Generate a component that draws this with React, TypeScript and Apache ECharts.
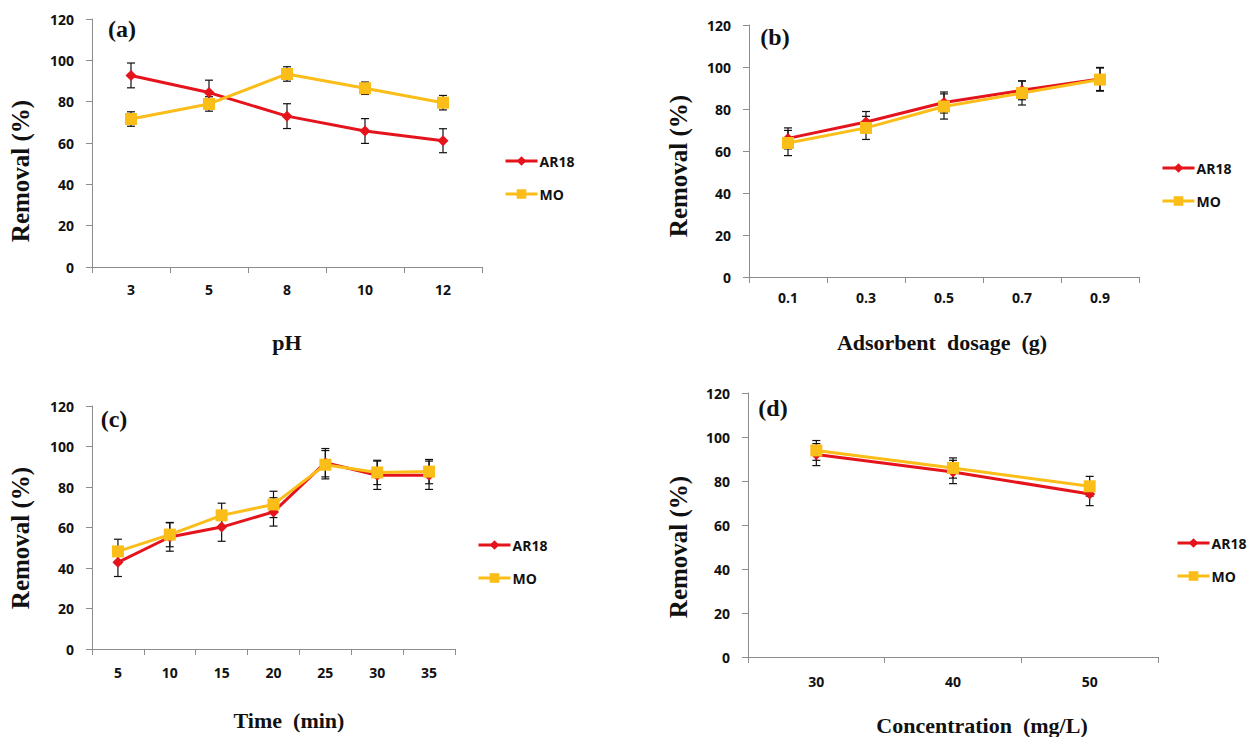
import React, { useEffect, useRef } from "react";
import * as echarts from "echarts";

// ---- data ----
const phCats = ["3", "5", "8", "10", "12"];
const phAR18 = [92.7, 84.4, 73.0, 65.8, 61.1];
const phAR18Err = [6, 6, 6, 6, 5.8];
const phMO = [71.6, 78.9, 93.4, 86.5, 79.5];
const phMOErr = [3.5, 3.5, 3.5, 3, 3.5];

const dosageCats = ["0.1", "0.3", "0.5", "0.7", "0.9"];
const dosAR18 = [66.0, 73.8, 83.1, 88.9, 94.3];
const dosAR18Err = [5, 5, 5, 4.5, 5.5];
const dosMO = [63.8, 71.0, 81.2, 87.6, 94.0];
const dosMOErr = [6, 5.5, 6, 5.7, 5.5];

const timeCats = ["5", "10", "15", "20", "25", "30", "35"];
const timeAR18 = [42.8, 55.3, 60.2, 67.7, 92.0, 85.8, 85.8];
const timeAR18Err = [7, 7, 7, 7, 7, 7, 7];
const timeMO = [48.2, 56.5, 66.0, 71.4, 91.0, 87.2, 87.6];
const timeMOErr = [6, 6, 6, 6.5, 7, 6, 6];

const concCats = ["30", "40", "50"];
const concAR18 = [92.0, 84.1, 74.1];
const concAR18Err = [5, 5.3, 5.3];
const concMO = [93.9, 85.9, 77.6];
const concMOErr = [4.5, 4.6, 4.5];

const yTicks = { min: 0, max: 120, interval: 20 };

const RED = "#e5141c";
const GOLD = "#fbbd18";
const AXIS = "#8c8c8c";
const SANS = '"Open Sans", "Liberation Sans", sans-serif';
const SERIF = '"Liberation Serif", "DejaVu Serif", serif';

const panels = [
  { cats: phCats, ar: phAR18, arE: phAR18Err, mo: phMO, moE: phMOErr,
    grid: { left: 92, top: 19, width: 390, height: 248 }, labelMargin: 15,
    legend: { left: 504, top: 154 }, letter: "(a)", letterPos: [122, 29],
    yTitlePos: [20, 171], xTitle: "pH", xTitlePos: [287, 342] },
  { cats: dosageCats, ar: dosAR18, arE: dosAR18Err, mo: dosMO, moE: dosMOErr,
    grid: { left: 749, top: 25, width: 390, height: 252 }, labelMargin: 13,
    legend: { left: 1161, top: 161 }, letter: "(b)", letterPos: [775, 37],
    yTitlePos: [678, 166], xTitle: "Adsorbent  dosage  (g)", xTitlePos: [942, 342] },
  { cats: timeCats, ar: timeAR18, arE: timeAR18Err, mo: timeMO, moE: timeMOErr,
    grid: { left: 92, top: 406, width: 363, height: 243 }, labelMargin: 16,
    legend: { left: 477, top: 538 }, letter: "(c)", letterPos: [114, 419],
    yTitlePos: [20, 538], xTitle: "Time  (min)", xTitlePos: [289, 720] },
  { cats: concCats, ar: concAR18, arE: concAR18Err, mo: concMO, moE: concMOErr,
    grid: { left: 748, top: 393, width: 410, height: 264 }, labelMargin: 17,
    legend: { left: 1176, top: 536 }, letter: "(d)", letterPos: [773, 408],
    yTitlePos: [678, 547], xTitle: "Concentration  (mg/L)", xTitlePos: [982, 725] },
];

function errorBarRender(params: any, api: any) {
  const x = api.value(0);
  const lo = api.coord([x, api.value(1)]);
  const hi = api.coord([x, api.value(2)]);
  const w = 4;
  const style = { stroke: "#111", lineWidth: 1.2 };
  return {
    type: "group",
    children: [
      { type: "line", shape: { x1: lo[0], y1: lo[1], x2: hi[0], y2: hi[1] }, style },
      { type: "line", shape: { x1: lo[0] - w, y1: lo[1], x2: lo[0] + w, y2: lo[1] }, style },
      { type: "line", shape: { x1: hi[0] - w, y1: hi[1], x2: hi[0] + w, y2: hi[1] }, style },
    ],
  };
}

function buildOption() {
  const grid: any[] = [];
  const xAxis: any[] = [];
  const yAxis: any[] = [];
  const series: any[] = [];
  const legend: any[] = [];
  const graphic: any[] = [];

  panels.forEach((p, i) => {
    grid.push({ ...p.grid, containLabel: false });
    xAxis.push({
      type: "category",
      gridIndex: i,
      data: p.cats,
      boundaryGap: true,
      axisLine: { lineStyle: { color: AXIS, width: 1 } },
      axisTick: { show: true, length: 6, inside: false, lineStyle: { color: AXIS } },
      axisLabel: { color: "#111", fontWeight: "bold", fontSize: 14, fontFamily: SANS, margin: p.labelMargin },
      splitLine: { show: false },
    });
    yAxis.push({
      type: "value",
      gridIndex: i,
      ...yTicks,
      axisLine: { show: true, lineStyle: { color: AXIS, width: 1 } },
      axisTick: { show: true, length: 6, lineStyle: { color: AXIS } },
      axisLabel: { color: "#111", fontWeight: "bold", fontSize: 14, fontFamily: SANS, margin: 18 },
      splitLine: { show: false },
    });

    const errData = (vals: number[], errs: number[]) =>
      vals.map((v, k) => [k, v - errs[k], v + errs[k]]);

    series.push({
      type: "custom",
      xAxisIndex: i,
      yAxisIndex: i,
      renderItem: errorBarRender,
      data: errData(p.ar, p.arE),
      z: 1,
      silent: true,
    });
    series.push({
      type: "custom",
      xAxisIndex: i,
      yAxisIndex: i,
      renderItem: errorBarRender,
      data: errData(p.mo, p.moE),
      z: 1,
      silent: true,
    });
    series.push({
      name: "AR18",
      type: "line",
      xAxisIndex: i,
      yAxisIndex: i,
      data: p.ar,
      symbol: "diamond",
      symbolSize: 11,
      itemStyle: { color: RED },
      lineStyle: { color: RED, width: 3 },
      z: 3,
    });
    series.push({
      name: "MO",
      type: "line",
      xAxisIndex: i,
      yAxisIndex: i,
      data: p.mo,
      symbol: "rect",
      symbolSize: 12,
      itemStyle: { color: GOLD },
      lineStyle: { color: GOLD, width: 3 },
      z: 4,
    });

    legend.push({
      orient: "vertical",
      left: p.legend.left,
      top: p.legend.top,
      itemWidth: 32,
      itemHeight: 12,
      itemGap: 19,
      padding: 0,
      data: ["AR18", "MO"],
      selectedMode: false,
      lineStyle: { width: 3 },
      textStyle: { color: "#111", fontWeight: "bold", fontSize: 14, fontFamily: SANS, padding: [0, 0, 0, -3] },
    });

    graphic.push({
      type: "text",
      x: p.letterPos[0],
      y: p.letterPos[1],
      style: {
        text: p.letter,
        fontSize: 24,
        fontWeight: "bold",
        fontFamily: SERIF,
        fill: "#111",
        textAlign: "center",
        textVerticalAlign: "middle",
      },
    });
    graphic.push({
      type: "text",
      x: p.yTitlePos[0],
      y: p.yTitlePos[1],
      rotation: Math.PI / 2,
      style: {
        text: "Removal (%)",
        fontSize: 25,
        fontWeight: "bold",
        fontFamily: SERIF,
        fill: "#111",
        textAlign: "center",
        textVerticalAlign: "middle",
      },
    });
    graphic.push({
      type: "text",
      x: p.xTitlePos[0],
      y: p.xTitlePos[1],
      style: {
        text: p.xTitle,
        fontSize: 22,
        fontWeight: "bold",
        fontFamily: SERIF,
        fill: "#111",
        textAlign: "center",
        textVerticalAlign: "middle",
      },
    });
  });

  return {
    animation: false,
    backgroundColor: "#ffffff",
    grid,
    xAxis,
    yAxis,
    series,
    legend,
    graphic,
  };
}

export default function App() {
  const ref = useRef<HTMLDivElement>(null);
  useEffect(() => {
    if (!ref.current) return;
    const chart = echarts.init(ref.current, undefined, { renderer: "svg" });
    chart.setOption(buildOption() as any);
    return () => chart.dispose();
  }, []);
  return (
    <div
      ref={ref}
      style={{ position: "absolute", left: 0, top: 0, width: 1255, height: 737, background: "#fff" }}
    />
  );
}
